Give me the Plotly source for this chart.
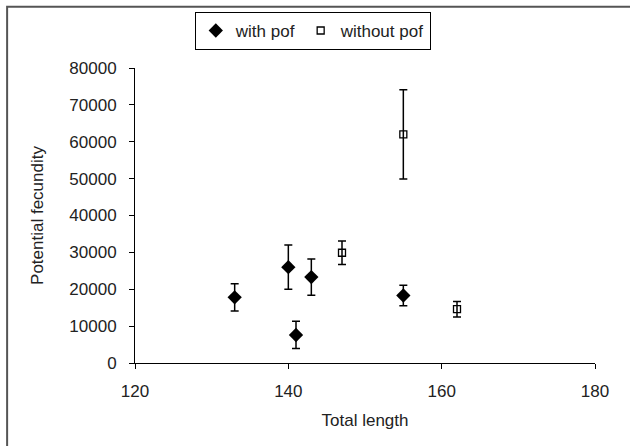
import plotly.graph_objects as go

# Total length vs potential fecundity, with standard error bars
with_pof_length = [133, 140, 141, 143, 155]
with_pof_fecundity = [17800, 26000, 7600, 23300, 18300]
with_pof_error = [3700, 6000, 3700, 4900, 2800]

without_pof_length = [147, 155, 162]
without_pof_fecundity = [29900, 62000, 14600]
without_pof_error = [3200, 12100, 2100]

x_ticks = [120, 140, 160, 180]
y_ticks = [0, 10000, 20000, 30000, 40000, 50000, 60000, 70000, 80000]

FONT = "Liberation Sans, Arial, sans-serif"
err_style = dict(type="data", visible=True, color="black", thickness=1.5, width=4)

fig = go.Figure()
fig.add_trace(go.Scatter(
    x=with_pof_length, y=with_pof_fecundity, mode="markers", name="with pof",
    error_y=dict(array=with_pof_error, **err_style),
    marker=dict(symbol="diamond", size=11, color="black", line=dict(width=0)),
))
fig.add_trace(go.Scatter(
    x=without_pof_length, y=without_pof_fecundity, mode="markers", name="without pof",
    error_y=dict(array=without_pof_error, **err_style),
    marker=dict(symbol="square-open", size=7, color="black", line=dict(width=1.3, color="black")),
))

axis_common = dict(
    showgrid=False, zeroline=False, showline=True, linecolor="black", linewidth=1,
    ticks="outside", ticklen=5, tickcolor="black", tickwidth=1,
    tickfont=dict(family=FONT, size=17, color="#222"),
)
fig.update_xaxes(range=[120, 180], tickvals=x_ticks, ticktext=[str(v) for v in x_ticks],
                 ticklabelstandoff=8,
                 title=dict(text="Total length", font=dict(family=FONT, size=17, color="#222"), standoff=13),
                 **axis_common)
fig.update_yaxes(range=[0, 80000], tickvals=y_ticks, ticktext=[str(v) for v in y_ticks],
                 ticklabelstandoff=9,
                 title=dict(text="Potential fecundity", font=dict(family=FONT, size=17, color="#222"), standoff=21),
                 **axis_common)

# outer chart frame
fig.add_shape(type="rect", xref="paper", yref="paper",
              x0=-0.278, y0=-0.4, x1=1.2, y1=1.208,
              line=dict(color="#555", width=2), fillcolor="rgba(0,0,0,0)")

fig.update_layout(
    width=630, height=446,
    margin=dict(l=135, r=35, t=68, b=83),
    paper_bgcolor="white", plot_bgcolor="white",
    showlegend=True,
    legend=dict(orientation="h", x=0.13, y=1.19, xanchor="left", yanchor="top",
                bordercolor="black", borderwidth=1, bgcolor="white",
                font=dict(family=FONT, size=17, color="#222"),
                itemwidth=30, tracegroupgap=0),
)

fig.write_html("out.html")
